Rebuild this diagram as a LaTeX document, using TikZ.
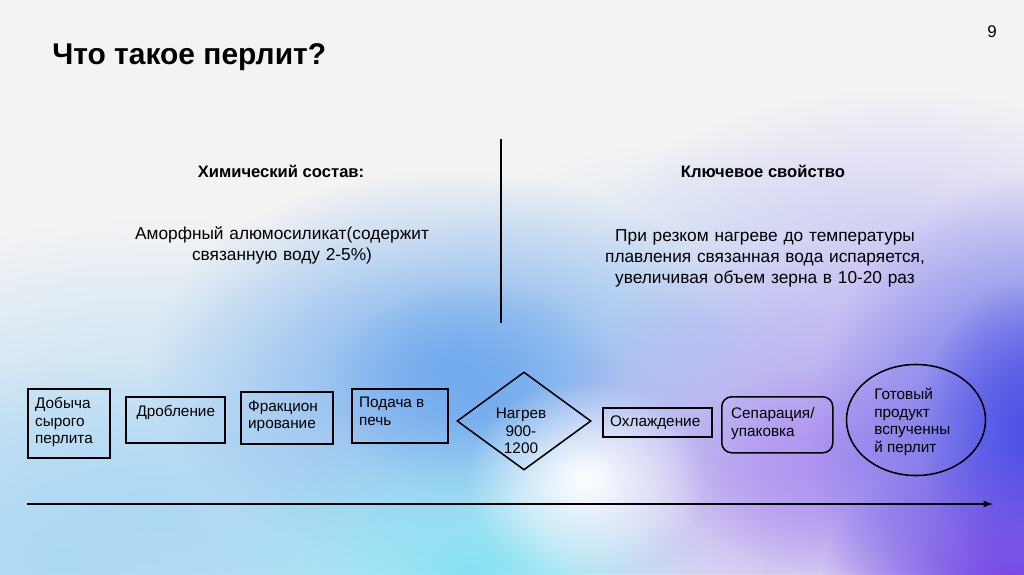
\documentclass[tikz,border=0pt]{standalone}
\usepackage{fontspec}
\setmainfont{Liberation Sans}
\usetikzlibrary{shapes.geometric,fadings}

\definecolor{paper}{HTML}{F3F3F4}
\definecolor{paleblue}{HTML}{ADD8F4}
\definecolor{midblue}{HTML}{74ACEE}
\definecolor{aqua}{HTML}{86E2F4}
\definecolor{violet}{HTML}{B096F0}
\definecolor{indigo}{HTML}{4C52E6}
\definecolor{purple}{HTML}{7442E6}
\definecolor{lavender}{HTML}{CFCCF4}
\definecolor{mist}{HTML}{C4DCF4}

\tikzfading[name=softblob, inner color=transparent!0, outer color=transparent!100]

\tikzset{
  blob/.style={path fading=softblob},
  stepbox/.style={draw, line width=1.1pt, anchor=north west, inner sep=0pt},
  steptext/.style={anchor=north west, align=left, inner xsep=5.6pt, inner ysep=6.5pt,
    font=\fontsize{10.9}{12.5}\selectfont},
  headtext/.style={anchor=base, font=\bfseries\fontsize{11.8}{14}\selectfont},
  bodytext/.style={anchor=base, align=center, text width=8cm,
    font=\fontsize{12.3}{15.2}\selectfont}
}

\begin{document}
\begin{tikzpicture}[x=0.025cm, y=-0.025cm]
\useasboundingbox (0,0) rectangle (1024,574);

% background
\fill[paper] (0,0) rectangle (1024,574);
\begin{scope}
\clip (0,0) rectangle (1024,574);
\fill[paleblue, blob] (160,520) ellipse (500 and 300);
\fill[paleblue, blob] (60,560) ellipse (300 and 200);
\fill[mist, blob] (720,330) ellipse (330 and 190);
\fill[lavender, blob] (900,250) ellipse (300 and 160);
\fill[midblue, blob] (450,370) ellipse (300 and 200);
\fill[midblue, blob] (480,390) ellipse (150 and 110);
\fill[aqua, blob] (470,570) ellipse (260 and 150);
\fill[violet, blob] (830,460) ellipse (300 and 220);
\fill[violet, blob] (820,470) ellipse (150 and 100);
\fill[white, blob] (585,480) ellipse (120 and 100);
\fill[indigo, blob] (1060,440) ellipse (250 and 270);
\fill[indigo, blob] (1030,430) ellipse (110 and 150);
\fill[purple, blob] (1010,590) ellipse (190 and 150);
\end{scope}

% titles
\node[anchor=base west, inner sep=0pt, font=\bfseries\fontsize{21.3}{25}\selectfont] (title) at (52,64) {Что такое перлит?};
\node[anchor=base, font=\fontsize{12}{14}\selectfont] (page) at (992,37) {9};

\node[headtext] (chemhead) at (281,177) {Химический состав:};
\node[bodytext] (chembody) at (282,239) {Аморфный алюмосиликат(содержит\\связанную воду 2-5\%)};

\node[headtext] (keyhead) at (763,177) {Ключевое свойство};
\node[bodytext] (keybody) at (765,241) {При резком нагреве до температуры\\плавления связанная вода испаряется,\\увеличивая объем зерна в 10-20 раз};

\coordinate (divtop) at (501,139);
\coordinate (divbot) at (501,323);
\draw[line width=1.4pt] (divtop) -- (divbot);

% process
\node[stepbox, minimum width=2.05cm, minimum height=1.725cm] (dobycha) at (27,388) {};
\node[steptext] at (dobycha.north west) {Добыча\\сырого\\перлита};

\node[stepbox, minimum width=2.475cm, minimum height=1.15cm] (droblenie) at (125,396) {};
\node[steptext, inner xsep=8pt] at (droblenie.north west) {Дробление};

\node[stepbox, minimum width=2.3cm, minimum height=1.3cm] (frakcia) at (240,391) {};
\node[steptext] at (frakcia.north west) {Фракцион\\ирование};

\node[stepbox, minimum width=2.4cm, minimum height=1.35cm] (podacha) at (351,388) {};
\node[steptext] at (podacha.north west) {Подача в\\печь};

\node[diamond, draw, line width=1.1pt, inner sep=0pt, minimum width=3.35cm, minimum height=2.45cm] (nagrev) at (524,421) {};
\node[align=center, font=\fontsize{10.9}{12.5}\selectfont] (nagrevtext) at (521,431) {Нагрев\\900-\\1200};

\node[stepbox, minimum width=2.725cm, minimum height=0.725cm] (ohlazhd) at (602,407) {};
\node[steptext, anchor=west] at (ohlazhd.west) {Охлаждение};

\node[stepbox, rounded corners=0.25cm, minimum width=2.775cm, minimum height=1.4cm] (separ) at (721,396) {};
\node[steptext, inner xsep=7pt, inner ysep=8pt] at (separ.north west) {Сепарация/\\упаковка};

\node[ellipse, draw, line width=1.1pt, inner sep=0pt, minimum width=3.475cm, minimum height=2.775cm] (gotovy) at (916,420) {};
\node[steptext, inner sep=0pt] at (874,388) {Готовый\\продукт\\вспученны\\й перлит};

\coordinate (timestart) at (27,504);
\coordinate (timeend) at (993,504);
\draw[->,>=latex, line width=1.3pt] (timestart) -- (timeend);
\end{tikzpicture}
\end{document}
